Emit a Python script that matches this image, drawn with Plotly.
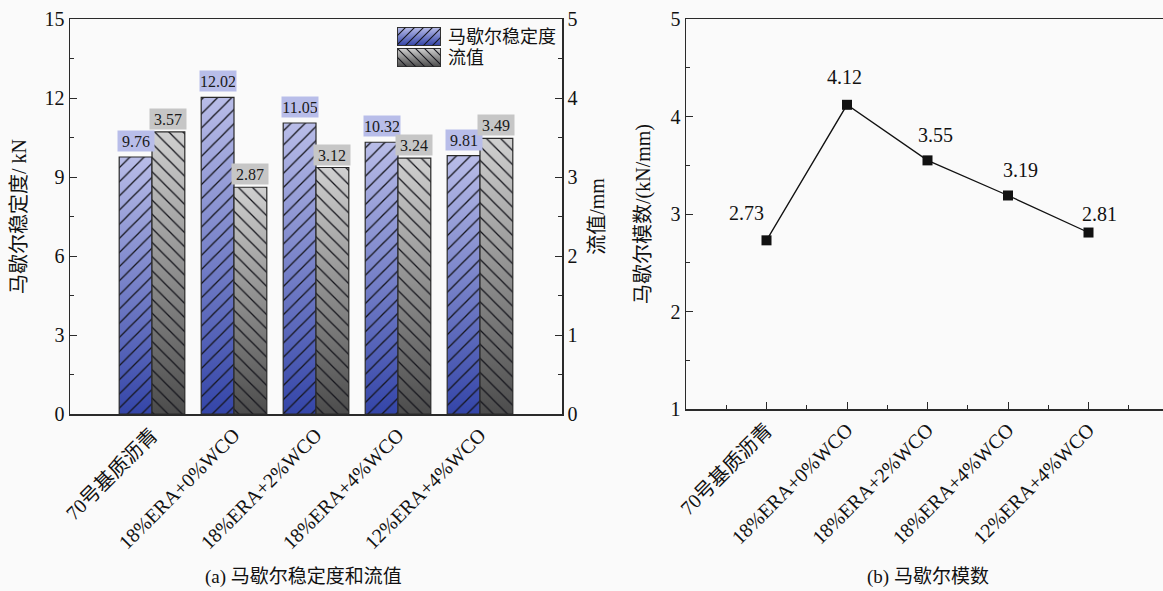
import base64
import plotly.graph_objects as go

# ---------------- data ----------------
categories = ["70号基质沥青", "18%ERA+0%WCO", "18%ERA+2%WCO", "18%ERA+4%WCO", "12%ERA+4%WCO"]
stability = [9.76, 12.02, 11.05, 10.32, 9.81]      # kN
flow = [3.57, 2.87, 3.12, 3.24, 3.49]               # mm
modulus = [2.73, 4.12, 3.55, 3.19, 2.81]            # kN/mm
stab_ticks = [0, 3, 6, 9, 12, 15]
flow_ticks = [0, 1, 2, 3, 4, 5]
mod_ticks = [1, 2, 3, 4, 5]

# ---------------- style ----------------
W, H = 1163, 591
FONT = "Liberation Serif, Noto Sans CJK SC, serif"
BG = "#fafafa"
AX = "#2a2a2a"
BAR_W = 0.4
BLUE_DARK, BLUE_LIGHT = "#3445a8", "#b9bde8"
GRAY_DARK, GRAY_LIGHT = "#4c4c4c", "#d0d0d0"
BLUE_LABEL_BG, GRAY_LABEL_BG = "#b8bde9", "#c6c6c6"
HATCH = "#15151c"
# label offsets (px) for the modulus line labels
mod_xshift = [-20, -3, 8, 12, 11]
mod_yshift = [14, 15, 12, 12, 6]

def px(xp):
    return xp / W

def py(yp):
    return 1 - yp / H

fig = go.Figure()

xpos = list(range(1, len(categories) + 1))

def add_bar(x0, x1, v, dark, light, shape, yaxis):
    xs = [x0, x0, x1, x1, x0]
    ys = [0, v, v, 0, 0]
    fig.add_trace(go.Scatter(
        x=xs, y=ys, mode="lines", fill="toself", yaxis=yaxis, xaxis="x",
        line=dict(width=0, color="rgba(0,0,0,0)"),
        fillgradient=dict(type="vertical", colorscale=[[0, dark], [1, light]]),
        showlegend=False, hoverinfo="skip"))
    fig.add_trace(go.Scatter(
        x=xs, y=ys, mode="lines", fill="toself", yaxis=yaxis, xaxis="x",
        fillcolor="rgba(0,0,0,0)",
        fillpattern=dict(shape=shape, fgcolor=HATCH, bgcolor="rgba(0,0,0,0)",
                         size=10, solidity=0.13),
        line=dict(width=1.2, color="#2a2a2a"),
        showlegend=False, hoverinfo="skip"))

for xc, v in zip(xpos, stability):
    add_bar(xc - BAR_W, xc, v, BLUE_DARK, BLUE_LIGHT, "/", "y")
for xc, v in zip(xpos, flow):
    add_bar(xc, xc + BAR_W, v, GRAY_DARK, GRAY_LIGHT, "\\", "y2")

annotations = []
for xc, v in zip(xpos, stability):
    annotations.append(dict(x=xc - BAR_W / 2, y=v, xref="x", yref="y", text=f"{v:.2f}",
                            showarrow=False, yanchor="bottom", yshift=5,
                            bgcolor=BLUE_LABEL_BG, width=34, height=18, borderpad=1,
                            font=dict(family=FONT, size=16, color="#1a1a1a")))
for xc, v in zip(xpos, flow):
    annotations.append(dict(x=xc + BAR_W / 2, y=v, xref="x", yref="y2", text=f"{v:.2f}",
                            showarrow=False, yanchor="bottom", yshift=2,
                            bgcolor=GRAY_LABEL_BG, width=34, height=18, borderpad=1,
                            font=dict(family=FONT, size=16, color="#1a1a1a")))

# right panel: modulus line
fig.add_trace(go.Scatter(
    x=xpos, y=modulus, xaxis="x3", yaxis="y3", mode="lines+markers",
    line=dict(color="#111111", width=1.3),
    marker=dict(symbol="square", size=10, color="#111111"),
    showlegend=False, hoverinfo="skip"))
for xc, v, xs_, ys_ in zip(xpos, modulus, mod_xshift, mod_yshift):
    annotations.append(dict(x=xc, y=v, xref="x3", yref="y3", text=f"{v:.2f}",
                            showarrow=False, yanchor="bottom", xshift=xs_, yshift=ys_,
                            font=dict(family=FONT, size=20, color="#111111")))

# legend (custom: gradient + hatch swatches)
def swatch(light, dark, path):
    svg = (
        "<svg xmlns='http://www.w3.org/2000/svg' width='44' height='19' viewBox='0 0 44 19' preserveAspectRatio='none'>"
        "<defs><linearGradient id='g' x1='0' y1='0' x2='0' y2='1'>"
        f"<stop offset='0' stop-color='{light}'/><stop offset='1' stop-color='{dark}'/></linearGradient>"
        "<pattern id='p' width='9' height='9' patternUnits='userSpaceOnUse'>"
        f"<path d='{path}' stroke='{HATCH}' stroke-width='1.1'/></pattern></defs>"
        "<rect x='0.5' y='0.5' width='43' height='18' fill='url(#g)' stroke='#333'/>"
        "<rect x='0.5' y='0.5' width='43' height='18' fill='url(#p)'/></svg>")
    return "data:image/svg+xml;base64," + base64.b64encode(svg.encode()).decode()

fwd = "M-2,2 L2,-2 M0,9 L9,0 M7,11 L11,7"
bwd = "M-2,7 L2,11 M0,0 L9,9 M7,-2 L11,2"
images = [
    dict(source=swatch(BLUE_LIGHT, BLUE_DARK, fwd), xref="paper", yref="paper",
         x=px(397), y=py(27), sizex=px(44), sizey=19 / H, xanchor="left", yanchor="top",
         sizing="stretch", layer="above"),
    dict(source=swatch(GRAY_LIGHT, GRAY_DARK, bwd), xref="paper", yref="paper",
         x=px(397), y=py(48), sizex=px(44), sizey=19 / H, xanchor="left", yanchor="top",
         sizing="stretch", layer="above"),
]
annotations += [
    dict(x=px(446), y=py(37), xref="paper", yref="paper", text="马歇尔稳定度", showarrow=False,
         xanchor="left", yanchor="middle", font=dict(family=FONT, size=18, color="#111")),
    dict(x=px(446), y=py(58), xref="paper", yref="paper", text="流值", showarrow=False,
         xanchor="left", yanchor="middle", font=dict(family=FONT, size=18, color="#111")),
    dict(x=px(303), y=py(577), xref="paper", yref="paper", text="(a) 马歇尔稳定度和流值",
         showarrow=False, xanchor="center", yanchor="middle",
         font=dict(family=FONT, size=19, color="#111")),
    dict(x=px(928), y=py(577), xref="paper", yref="paper", text="(b) 马歇尔模数",
         showarrow=False, xanchor="center", yanchor="middle",
         font=dict(family=FONT, size=19, color="#111")),
]

tickfont = dict(family=FONT, size=20, color="#111")
titlefont = dict(family=FONT, size=20, color="#111")

left_dom_x = [px(70), px(562)]
left_dom_y = [py(414), py(19)]
right_dom_x = [px(686), 1.0]
right_dom_y = [py(409), py(19)]
right_xmax = (W - 686) / 80.5

common = dict(automargin=False, showgrid=False, zeroline=False, tickfont=tickfont,
              linecolor=AX, linewidth=1.5, showline=True, tickcolor=AX)

fig.update_layout(
    template="none",
    width=W, height=H, margin=dict(l=0, r=0, t=0, b=0),
    paper_bgcolor=BG, plot_bgcolor=BG, showlegend=False,
    annotations=annotations, images=images,
    xaxis=dict(domain=left_dom_x, range=[0, 6], tickvals=xpos, ticktext=categories,
               tickangle=-45, ticks="", mirror=True, anchor="y", **common),
    yaxis=dict(domain=left_dom_y, range=[0, 15], tickvals=stab_ticks, ticks="inside",
               ticklen=7, anchor="x",
               minor=dict(dtick=1.5, ticks="inside", ticklen=4, tickcolor=AX),
               title=dict(text="马歇尔稳定度/ kN", font=titlefont, standoff=12), **common),
    yaxis2=dict(range=[0, 5], tickvals=flow_ticks, ticks="inside", overlaying="y",
                side="right", anchor="x", ticklen=7,
                minor=dict(dtick=0.5, ticks="inside", ticklen=4, tickcolor=AX),
                title=dict(text="流值/mm", font=titlefont, standoff=13), **common),
    xaxis3=dict(domain=right_dom_x, range=[0, right_xmax], tickvals=xpos, ticktext=categories,
                tickangle=-45, ticks="inside", ticklen=7, mirror=True, anchor="y3",
                minor=dict(tickvals=[k + 0.5 for k in range(0, 6)], ticks="inside",
                           ticklen=4, tickcolor=AX), **common),
    yaxis3=dict(domain=right_dom_y, range=[1, 5], tickvals=mod_ticks, ticks="inside",
                ticklen=7, anchor="x3",
                minor=dict(dtick=0.5, ticks="inside", ticklen=4, tickcolor=AX),
                title=dict(text="马歇尔模数/(kN/mm)", font=titlefont, standoff=14), **common),
)

fig.write_html("out.html", config={"displayModeBar": False, "staticPlot": True},
               post_script="document.body.style.margin='0';document.body.style.overflow='hidden';")
